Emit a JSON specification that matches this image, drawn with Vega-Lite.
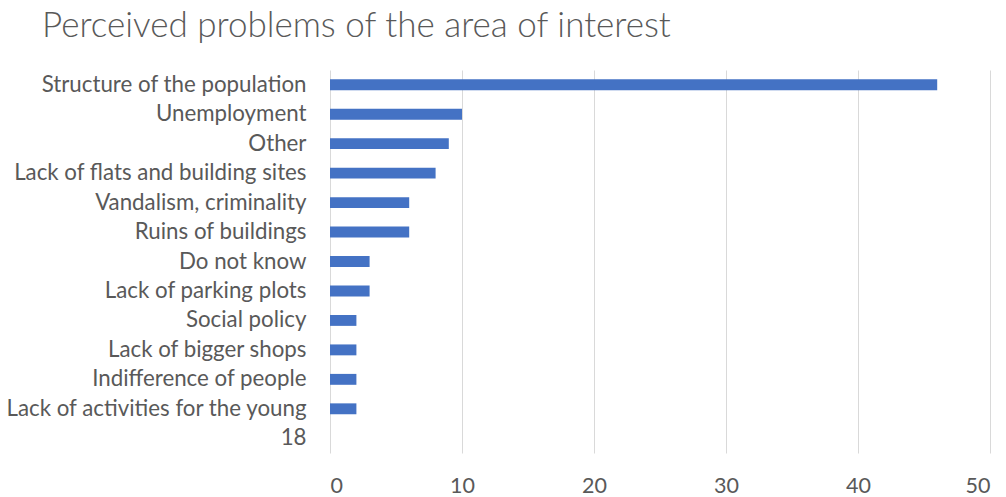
{
  "$schema": "https://vega.github.io/schema/vega-lite/v6.json",
  "autosize": {"type": "none"},
  "width": 660,
  "height": 383,
  "padding": {"left": 330, "top": 70, "right": 16, "bottom": 44},
  "background": "white",
  "title": {
    "text": "Perceived problems of the area of interest",
    "anchor": "start",
    "frame": "group",
    "dx": -288,
    "offset": 26,
    "font": "Lato",
    "fontSize": 35,
    "fontWeight": 300,
    "color": "#595959"
  },
  "data": {
    "values": [
      {"problem": "Structure of the population", "count": 46},
      {"problem": "Unemployment", "count": 10},
      {"problem": "Other", "count": 9},
      {"problem": "Lack of flats and building sites", "count": 8},
      {"problem": "Vandalism, criminality", "count": 6},
      {"problem": "Ruins of buildings", "count": 6},
      {"problem": "Do not know", "count": 3},
      {"problem": "Lack of parking plots", "count": 3},
      {"problem": "Social policy", "count": 2},
      {"problem": "Lack of bigger shops", "count": 2},
      {"problem": "Indifference of people", "count": 2},
      {"problem": "Lack of activities for the young", "count": 2},
      {"problem": "18", "count": 0}
    ]
  },
  "mark": {"type": "bar", "color": "#4472C4"},
  "encoding": {
    "y": {
      "field": "problem",
      "type": "nominal",
      "sort": null,
      "scale": {"paddingInner": 0.63, "paddingOuter": 0.315},
      "axis": {
        "title": null,
        "domain": false,
        "ticks": false,
        "labelPadding": 24,
        "labelFont": "Lato",
        "labelFontSize": 22.3,
        "labelColor": "#595959",
        "labelLimit": 400
      }
    },
    "x": {
      "field": "count",
      "type": "quantitative",
      "scale": {"domain": [0, 50], "nice": false},
      "axis": {
        "title": null,
        "values": [0, 10, 20, 30, 40, 50],
        "domain": false,
        "ticks": false,
        "grid": true,
        "gridColor": "#d9d9d9",
        "gridWidth": 1,
        "labelPadding": 22,
        "labelFont": "Lato",
        "labelFontSize": 21.5,
        "labelColor": "#595959"
      }
    }
  },
  "config": {"view": {"stroke": null}}
}
